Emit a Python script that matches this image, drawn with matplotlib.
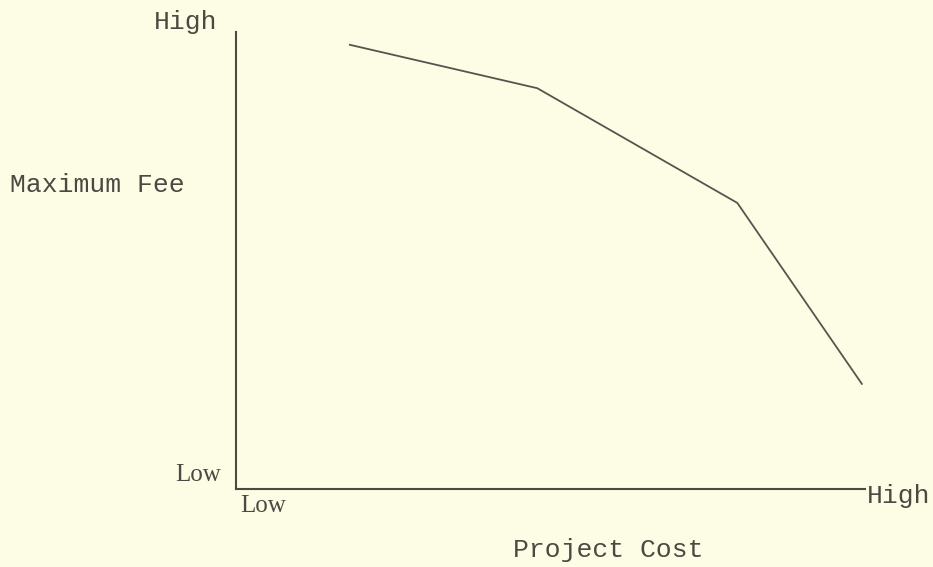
import matplotlib.pyplot as plt

# project cost (0 = low, 10 = high) vs maximum fee (0 = low, 10 = high)
cost = [1.81, 4.79, 7.97, 9.95]
fee = [9.72, 8.77, 6.26, 2.30]

W, H = 933, 567
bg = '#fdfde6'
ink = '#4a4a42'

fig = plt.figure(figsize=(W / 100, H / 100), dpi=100, facecolor=bg)
# axes placed by pixel edges of the original
left, right, top, bottom = 236, 865, 32, 489
ax = fig.add_axes([left / W, 1 - bottom / H, (right - left) / W, (bottom - top) / H])
ax.set_facecolor(bg)

ax.plot(cost, fee, color='#55554d', linewidth=1.3)
ax.set_xlim(0, 10)
ax.set_ylim(0, 10)
ax.set_xticks([])
ax.set_yticks([])
for s in ['top', 'right']:
    ax.spines[s].set_visible(False)
for s in ['left', 'bottom']:
    ax.spines[s].set_color(ink)
    ax.spines[s].set_linewidth(1.5)

mono = dict(family='Liberation Mono', fontsize=19, color=ink)
serif = dict(family='Liberation Serif', fontsize=18, color=ink)


def px(x, y):
    return x / W, 1 - y / H


fig.text(*px(217, 22), 'High', ha='right', va='center', **mono)
fig.text(*px(10, 185), 'Maximum Fee', ha='left', va='center', **mono)
fig.text(*px(221, 475), 'Low', ha='right', va='center', **serif)
fig.text(*px(240, 506), 'Low', ha='left', va='center', **serif)
fig.text(*px(867, 496), 'High', ha='left', va='center', **mono)
fig.text(*px(513, 550), 'Project Cost', ha='left', va='center', **mono)

fig.savefig('out.png', dpi=100, facecolor=bg)
